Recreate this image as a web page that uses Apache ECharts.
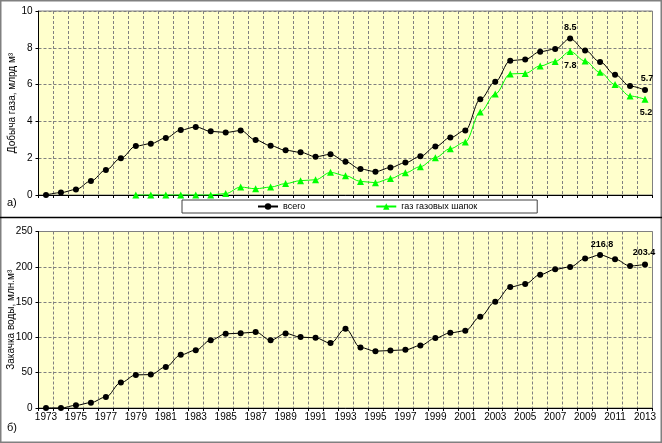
<!DOCTYPE html>
<html>
<head>
<meta charset="utf-8">
<script src="https://cdn.jsdelivr.net/npm/echarts@6/dist/echarts.min.js"></script>
<style>
  html, body { margin: 0; padding: 0; background: #fff; }
  #chart { width: 662px; height: 443px; }
</style>
</head>
<body>
<div id="chart"></div>
<script>
const years = ['1973','1974','1975','1976','1977','1978','1979','1980','1981','1982',
  '1983','1984','1985','1986','1987','1988','1989','1990','1991','1992',
  '1993','1994','1995','1996','1997','1998','1999','2000','2001','2002',
  '2003','2004','2005','2006','2007','2008','2009','2010','2011','2012','2013'];

// добыча газа всего, млрд м3
const gasTotal = [0.0, 0.13, 0.3, 0.76, 1.36, 2.0, 2.66, 2.79, 3.1, 3.53,
  3.7, 3.46, 3.4, 3.5, 2.99, 2.68, 2.43, 2.32, 2.08, 2.21,
  1.81, 1.41, 1.27, 1.49, 1.76, 2.1, 2.63, 3.12, 3.51, 5.2,
  6.16, 7.3, 7.37, 7.79, 7.93, 8.5, 7.86, 7.23, 6.54, 5.92, 5.7];

// газ газовых шапок, млрд м3
const gasCap = [null, null, null, null, null, null, 0, 0, 0, 0,
  0, 0, 0.08, 0.43, 0.34, 0.43, 0.62, 0.78, 0.83, 1.23,
  1.05, 0.74, 0.67, 0.89, 1.21, 1.54, 2.03, 2.52, 2.88, 4.51,
  5.49, 6.58, 6.61, 7.01, 7.26, 7.8, 7.28, 6.67, 6.0, 5.38, 5.2];

// закачка воды, млн м3
const water = [0, 0, 3.8, 7.6, 15.6, 36, 46.9, 47.3, 58.2, 75.3,
  81.9, 96, 105, 106, 107.5, 96, 105.6, 100.4, 99.4, 91.9,
  112.2, 85.7, 80.5, 81.4, 82.4, 88.5, 99, 106.5, 109.4, 129.3,
  150.6, 171.4, 175.7, 188.9, 196.5, 199.8, 211.6, 216.8, 210.7, 201.2, 203.4];

const gasTicks = [0, 10, 2];
const waterTicks = [0, 250, 50];

const FONT = 'Liberation Sans, Arial, sans-serif';
const gridLine = { show: true, lineStyle: { color: '#808080', type: [3, 2], width: 1 } };

function withLabels(values, labels) {
  return values.map((v, i) => {
    if (labels[i]) {
      return { value: v, label: Object.assign({ show: true, formatter: (p) => p.value.toFixed(1) }, labels[i]) };
    }
    return v;
  });
}

const labelStyle = { color: '#000', fontSize: 9, fontWeight: 'bold', fontFamily: FONT };
const last = years.length - 1;
const i2008 = years.indexOf('2008');
const i2010 = years.indexOf('2010');

const totalLabels = {};
totalLabels[i2008] = Object.assign({ position: 'top', distance: 4 }, labelStyle);
totalLabels[last] = Object.assign({ position: 'top', distance: 4, offset: [2, 0] }, labelStyle);
const capLabels = {};
capLabels[i2008] = Object.assign({ position: 'bottom', distance: 6 }, labelStyle);
capLabels[last] = Object.assign({ position: 'bottom', distance: 5, offset: [1, 0] }, labelStyle);
const waterLabels = {};
waterLabels[i2010] = Object.assign({ position: 'top', distance: 3, offset: [2, 0] }, labelStyle);
waterLabels[last] = Object.assign({ position: 'top', distance: 4, offset: [-1, 0] }, labelStyle);

const chart = echarts.init(document.getElementById('chart'), null, { renderer: 'canvas' });

const xCommon = {
  type: 'category',
  data: years,
  boundaryGap: true,
  axisLine: { show: true, lineStyle: { color: '#000', width: 1 } },
  axisTick: { show: true, interval: 0, length: 3, lineStyle: { color: '#000' } },
  splitLine: Object.assign({ interval: 0 }, gridLine)
};

const option = {
  animation: false,
  textStyle: { fontFamily: FONT },
  graphic: [
    { type: 'rect', shape: { x: 0.5, y: 0.5, width: 661, height: 442 },
      style: { fill: 'none', stroke: '#808080', lineWidth: 2 }, z: -1 },
    { type: 'line', shape: { x1: 0, y1: 217.5, x2: 662, y2: 217.5 },
      style: { stroke: '#000', lineWidth: 1.5 } },
    { type: 'text', left: 7, top: 197, style: { text: 'а)', fontSize: 11, fontFamily: FONT, fill: '#000' } },
    { type: 'text', left: 7, top: 422, style: { text: 'б)', fontSize: 11, fontFamily: FONT, fill: '#000' } }
  ],
  legend: {
    left: 182,
    top: 200,
    padding: [2, 60, 2, 75],
    itemGap: 70,
    itemWidth: 20,
    itemHeight: 8,
    borderColor: '#404040',
    borderWidth: 1,
    backgroundColor: '#fff',
    textStyle: { fontSize: 9, fontFamily: FONT, color: '#000' },
    data: ['всего', 'газ газовых шапок']
  },
  grid: [
    { left: 38.5, right: 9.5, top: 11, height: 184, show: true, outerBoundsMode: 'none',
      backgroundColor: '#FFFFCC', borderColor: '#808080', borderWidth: 1 },
    { left: 38.5, right: 9.5, top: 231.5, height: 176.5, show: true, outerBoundsMode: 'none',
      backgroundColor: '#FFFFCC', borderColor: '#808080', borderWidth: 1 }
  ],
  xAxis: [
    Object.assign({}, xCommon, { gridIndex: 0, axisLabel: { show: false } }),
    Object.assign({}, xCommon, { gridIndex: 1,
      axisLabel: { show: true, interval: 1, margin: 4, fontSize: 10, color: '#000', fontFamily: FONT } })
  ],
  yAxis: [
    { type: 'value', gridIndex: 0, min: gasTicks[0], max: gasTicks[1], interval: gasTicks[2],
      name: 'Добыча газа, млрд м³', nameLocation: 'middle', nameGap: 21, nameMoveOverlap: false,
      nameTextStyle: { fontSize: 10, color: '#000', fontFamily: FONT },
      axisLine: { show: true, lineStyle: { color: '#000' } },
      axisTick: { show: true, length: 3, lineStyle: { color: '#000' } },
      axisLabel: { margin: 6, fontSize: 10, color: '#000', fontFamily: FONT },
      splitLine: gridLine },
    { type: 'value', gridIndex: 1, min: waterTicks[0], max: waterTicks[1], interval: waterTicks[2],
      name: 'Закачка воды, млн.м³', nameLocation: 'middle', nameGap: 22, nameMoveOverlap: false,
      nameTextStyle: { fontSize: 10, color: '#000', fontFamily: FONT },
      axisLine: { show: true, lineStyle: { color: '#000' } },
      axisTick: { show: true, length: 3, lineStyle: { color: '#000' } },
      axisLabel: { margin: 6, fontSize: 10, color: '#000', fontFamily: FONT },
      splitLine: gridLine }
  ],
  series: [
    { name: 'всего', type: 'line', xAxisIndex: 0, yAxisIndex: 0,
      data: withLabels(gasTotal, totalLabels),
      smooth: 0.35, smoothMonotone: 'x',
      symbol: 'circle', symbolSize: 6,
      lineStyle: { color: '#000', width: 1 },
      itemStyle: { color: '#000' }, z: 3 },
    { name: 'газ газовых шапок', type: 'line', xAxisIndex: 0, yAxisIndex: 0,
      data: withLabels(gasCap, capLabels),
      smooth: 0.35, smoothMonotone: 'x',
      symbol: 'triangle', symbolSize: 7,
      lineStyle: { color: '#00FF00', width: 1 },
      itemStyle: { color: '#00FF00' }, z: 2 },
    { name: 'закачка', type: 'line', xAxisIndex: 1, yAxisIndex: 1,
      data: withLabels(water, waterLabels),
      smooth: 0.35, smoothMonotone: 'x',
      symbol: 'circle', symbolSize: 6,
      lineStyle: { color: '#000', width: 1 },
      itemStyle: { color: '#000' } }
  ]
};

chart.setOption(option);
</script>
</body>
</html>
